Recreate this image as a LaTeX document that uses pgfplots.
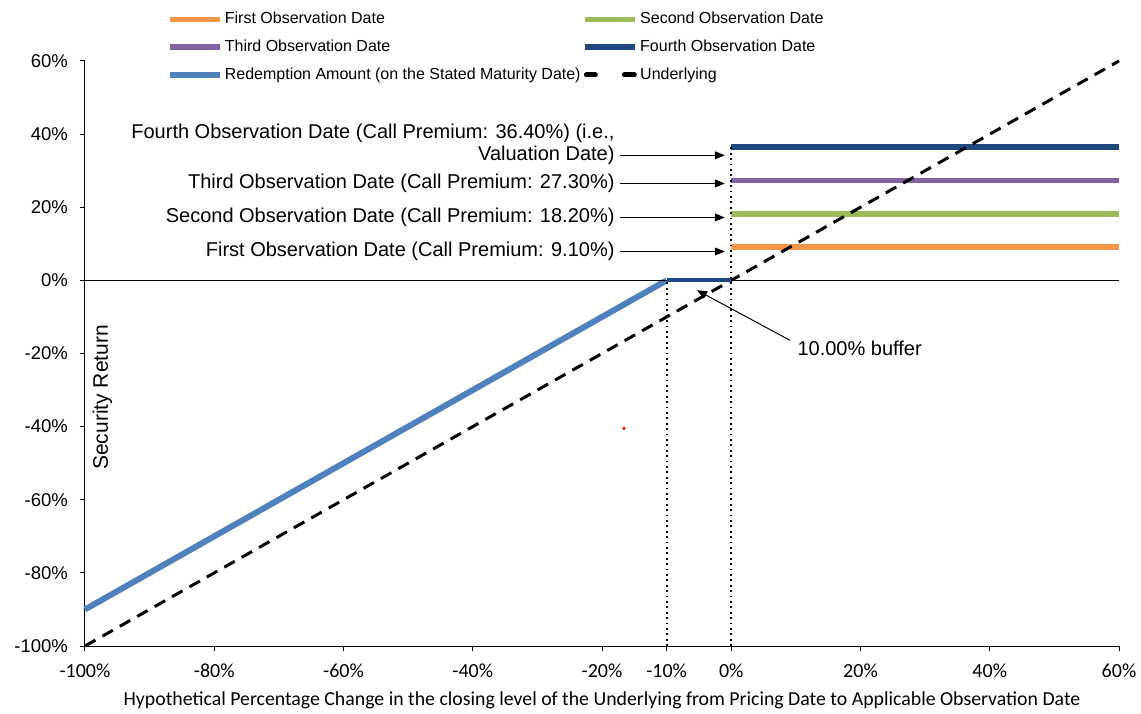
\documentclass[border=0pt]{standalone}
\usepackage{fontspec}
\setmainfont{Liberation Sans}
\newfontfamily\calibri{Carlito}
\usepackage{pgfplots}
\pgfplotsset{compat=1.18}
\usetikzlibrary{arrows.meta}

\definecolor{obsorange}{HTML}{F79646}
\definecolor{obsgreen}{HTML}{9BBB59}
\definecolor{obspurple}{HTML}{8064A2}
\definecolor{obsnavy}{HTML}{1F497D}
\definecolor{redblue}{HTML}{4F81BD}

\begin{document}
\begin{tikzpicture}
  \begin{axis}[
      scale only axis,
      width=517pt, height=292.5pt,
      xmin=-100, xmax=60, ymin=-100, ymax=60,
      axis x line*=bottom, axis y line*=left,
      tick align=outside, major tick length=2.5pt,
      tick style={black, line width=0.5pt},
      axis line style={black, line width=0.5pt},
      xtick={-100,-80,-60,-40,-20,-10,0,20,40,60},
      xticklabels={-100\%,-80\%,-60\%,-40\%,-20\%,-10\%,0\%,20\%,40\%,60\%},
      ytick={-100,-80,-60,-40,-20,0,20,40,60},
      yticklabels={-100\%,-80\%,-60\%,-40\%,-20\%,0\%,20\%,40\%,60\%},
      xticklabel style={font=\calibri\fontsize{10}{12}\selectfont, yshift=-3pt},
      yticklabel style={font=\fontsize{9.25}{11}\selectfont, xshift=-2.5pt},
      xlabel={Hypothetical Percentage Change in the closing level of the Underlying from Pricing Date to Applicable Observation Date},
      xlabel style={font=\calibri\fontsize{9.9}{12}\selectfont, at={(axis description cs:0.5,0)}, anchor=center, yshift=-27pt},
      legend columns=2,
      legend style={draw=none, fill=none, at={(axis description cs:0.073,1.098)}, anchor=north west,
        font=\fontsize{8}{9.5}\selectfont, nodes={inner xsep=1pt},
        /tikz/every even column/.append style={column sep=0pt},
        row sep=2.6pt},
      legend cell align=left,
      legend image code/.code={\draw[#1] (0pt,0pt) -- (25pt,0pt);},
      clip=false,
    ]
    % observation lines (x from 0% to 60%)
    \addplot[obsorange, line width=2.8pt] coordinates {(0,9.1) (60,9.1)};
    \addlegendentry{First Observation Date}
    \addplot[obsgreen, line width=2.8pt] coordinates {(0,18.2) (60,18.2)};
    \addlegendentry{Second Observation Date}
    \addplot[obspurple, line width=2.8pt] coordinates {(0,27.3) (60,27.3)};
    \addlegendentry{Third Observation Date}
    \addplot[obsnavy, line width=2.8pt] coordinates {(0,36.4) (60,36.4)};
    \addlegendentry{Fourth Observation Date}
    % redemption amount
    \addplot[redblue, line width=3pt] coordinates {(-100,-90) (-10,0)};
    \addlegendentry{Redemption Amount (on the Stated Maturity Date)}
    \addplot[black, line width=1.5pt, dash pattern=on 6pt off 4pt,
      legend image code/.code={\draw[black, line width=2.5pt, line cap=round] (0.5pt,0pt) -- (5pt,0pt) (19.5pt,0pt) -- (24.5pt,0pt);}]
      coordinates {(-100,-100) (60,60)};
    \addlegendentry{Underlying}
    % helper lines
    \addplot[black, line width=0.5pt, forget plot] coordinates {(-100,0) (60,0)};
    \addplot[black, line width=0.9pt, dash pattern=on 0.9pt off 1.8pt, forget plot] coordinates {(-10,-100) (-10,0)};
    \addplot[black, line width=0.9pt, dash pattern=on 0.9pt off 1.8pt, forget plot] coordinates {(0,-100) (0,36.4)};
    \addplot[obsnavy, line width=2pt, forget plot] coordinates {(-10,0) (0,0)};
    \addplot[red, only marks, mark=*, mark size=0.6pt, forget plot] coordinates {(-16.6,-40.5)};
    % annotations
    \node[anchor=east, inner sep=0pt, font=\fontsize{10}{12}\selectfont] at (axis cs:-18,40.2) {Fourth Observation Date (Call Premium: 36.40\%) (i.e.,};
    \node[anchor=east, inner sep=0pt, font=\fontsize{10}{12}\selectfont] at (axis cs:-18,34.2) {Valuation Date)};
    \node[anchor=east, inner sep=0pt, font=\fontsize{10}{12}\selectfont] at (axis cs:-18,26.5) {Third Observation Date (Call Premium: 27.30\%)};
    \node[anchor=east, inner sep=0pt, font=\fontsize{10}{12}\selectfont] at (axis cs:-18,17.2) {Second Observation Date (Call Premium: 18.20\%)};
    \node[anchor=east, inner sep=0pt, font=\fontsize{10}{12}\selectfont] at (axis cs:-18,7.9) {First Observation Date (Call Premium: 9.10\%)};
    \draw[-{Triangle[length=5pt,width=4pt]}, line width=0.5pt] (axis cs:-17.2,34.2) -- (axis cs:-1.0,34.2);
    \draw[-{Triangle[length=5pt,width=4pt]}, line width=0.5pt] (axis cs:-17.2,26.5) -- (axis cs:-1.0,26.5);
    \draw[-{Triangle[length=5pt,width=4pt]}, line width=0.5pt] (axis cs:-17.2,17.2) -- (axis cs:-1.0,17.2);
    \draw[-{Triangle[length=5pt,width=4pt]}, line width=0.5pt] (axis cs:-17.2,7.9) -- (axis cs:-1.0,7.9);
    \node[anchor=north west, inner sep=0pt, font=\fontsize{10}{12}\selectfont] at (axis cs:10.2,-16.4) {10.00\% buffer};
    \draw[-{Triangle[length=5pt,width=4pt]}, line width=0.5pt] (axis cs:9.1,-16.4) -- (axis cs:-5.3,-2.7);
    \node[rotate=90, inner sep=0pt, font=\fontsize{10.5}{12}\selectfont] at (axis cs:-97.3,-32) {Security Return};
  \end{axis}
  \pgfresetboundingbox
  \path[use as bounding box] ([shift={(-42.5pt,-33.5pt)}]current axis.south west) rectangle ++(570.5pt,356.5pt);
\end{tikzpicture}
\end{document}
